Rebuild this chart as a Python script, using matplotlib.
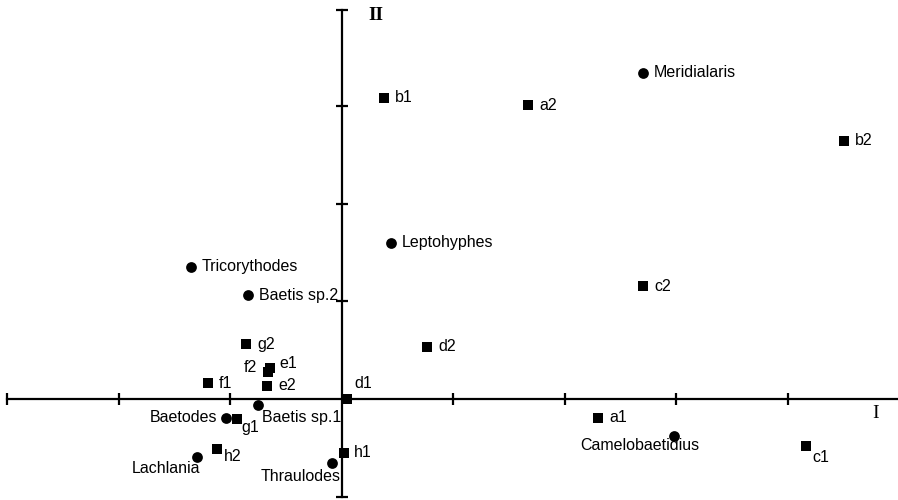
import matplotlib
matplotlib.use("Agg")
import matplotlib.pyplot as plt

# Taxa (circles)
taxa = ["Meridialaris", "Leptohyphes", "Tricorythodes", "Baetis sp.2", "Baetis sp.1",
        "Baetodes", "Lachlania", "Thraulodes", "Camelobaetidius"]
taxa_x = [2.700, 0.439, -1.354, -0.843, -0.753, -1.040, -1.300, -0.090, 2.978]
taxa_y = [3.332, 1.597, 1.352, 1.066, -0.056, -0.189, -0.587, -0.648, -0.372]

# Sites (squares)
sites = ["b1", "a2", "b2", "c2", "g2", "d2", "e1", "f2", "f1", "e2", "d1",
         "g1", "h2", "h1", "a1", "c1"]
sites_x = [0.377, 1.668, 4.502, 2.700, -0.861, 0.762, -0.646, -0.664, -1.202, -0.673, 0.045,
           -0.942, -1.121, 0.018, 2.296, 4.161]
sites_y = [3.077, 3.005, 2.638, 1.158, 0.566, 0.536, 0.321, 0.281, 0.168, 0.138, 0.005,
           -0.199, -0.505, -0.546, -0.189, -0.474]

x_ticks = [-3, -2, -1, 1, 2, 3, 4]
y_ticks = [-1, 1, 2, 3, 3.974]

# label placement (offset points, alignment)
taxa_lab = {
    "Meridialaris": ((8, 0), "left"),
    "Leptohyphes": ((8, 0), "left"),
    "Tricorythodes": ((8, 0), "left"),
    "Baetis sp.2": ((8, 0), "left"),
    "Baetis sp.1": ((3, -9), "left"),
    "Baetodes": ((-6, 0), "right"),
    "Lachlania": ((-22, -8), "center"),
    "Thraulodes": ((6, -10), "right"),
    "Camelobaetidius": ((-24.5, -7), "center"),
}
sites_lab = {
    "e1": ((6.5, 3.5), "left"),
    "f2": ((-8, 3), "right"),
    "d1": ((5, 11.5), "left"),
    "g1": ((3, -6.5), "left"),
    "h2": ((5, -5.5), "left"),
    "h1": ((7, 0), "left"),
    "c1": ((5, -8.5), "left"),
}

fig = plt.figure(figsize=(8.98, 5.0), dpi=100)
ax = fig.add_axes([0, 0, 1, 1])
ax.set_xlim(-3.067, 4.987)
ax.set_ylim(-1.026, 4.077)

for s in ["top", "right"]:
    ax.spines[s].set_visible(False)
ax.spines["left"].set_position(("data", 0))
ax.spines["bottom"].set_position(("data", 0))
ax.spines["left"].set_bounds(-1, 3.974)
ax.spines["bottom"].set_bounds(-3, 4.987)
for s in ["left", "bottom"]:
    ax.spines[s].set_linewidth(1.6)
    ax.spines[s].set_zorder(1)
ax.set_xticks(x_ticks)
ax.set_yticks(y_ticks)
ax.tick_params(direction="inout", length=9, width=1.6, labelbottom=False, labelleft=False)

ax.scatter(taxa_x, taxa_y, marker="o", s=60, color="black", zorder=3, linewidths=0)
ax.scatter(sites_x, sites_y, marker="s", s=60, color="black", zorder=3, linewidths=0)

fs = 11.5
for name, x, y in zip(taxa, taxa_x, taxa_y):
    off, ha = taxa_lab[name]
    ax.annotate(name, (x, y), xytext=off, textcoords="offset points", ha=ha, va="center",
                fontsize=fs, family="Liberation Sans")
for name, x, y in zip(sites, sites_x, sites_y):
    off, ha = sites_lab.get(name, ((8, 0), "left"))
    ax.annotate(name, (x, y), xytext=off, textcoords="offset points", ha=ha, va="center",
                fontsize=fs, family="Liberation Sans")

ax.text(0.305, 3.92, "II", fontsize=14, family="Liberation Serif", weight="bold",
        ha="center", va="center")
ax.text(4.79, -0.14, "I", fontsize=14, family="Liberation Serif",
        ha="center", va="center")

fig.savefig("out.png", dpi=100)
